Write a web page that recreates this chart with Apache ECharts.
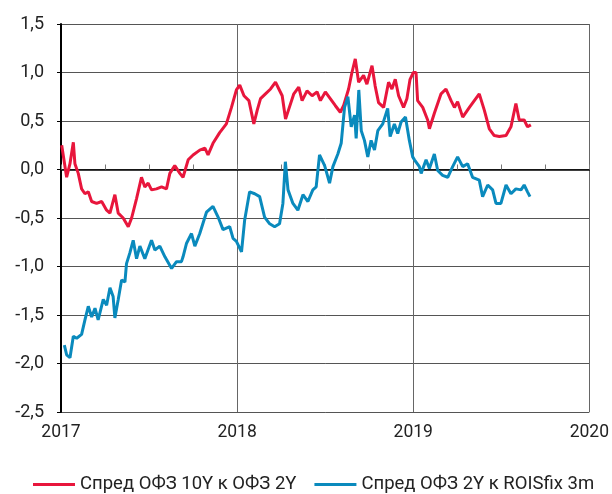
<!DOCTYPE html>
<html>
<head>
<meta charset="utf-8">
<script src="https://cdn.jsdelivr.net/npm/echarts@6/dist/echarts.min.js"></script>
<style>
  html, body { margin: 0; padding: 0; background: #fff; }
  #chart { width: 612px; height: 494px; }
</style>
</head>
<body>
<div id="chart"></div>
<script>
// Спред ОФЗ 10Y к ОФЗ 2Y (decimal year, п.п.)
const redX = [2017.004, 2017.032, 2017.051, 2017.070, 2017.079, 2017.098, 2017.117, 2017.136, 2017.155, 2017.174,
  2017.202, 2017.231, 2017.259, 2017.278, 2017.306, 2017.325, 2017.353, 2017.382, 2017.401, 2017.429,
  2017.457, 2017.476, 2017.495, 2017.514, 2017.542, 2017.571, 2017.599, 2017.618, 2017.646, 2017.675,
  2017.693, 2017.722, 2017.750, 2017.788, 2017.817, 2017.835, 2017.863, 2017.901, 2017.939, 2017.968,
  2017.996, 2018.015, 2018.039, 2018.067, 2018.095, 2018.114, 2018.133, 2018.161, 2018.190, 2018.218,
  2018.237, 2018.256, 2018.275, 2018.293, 2018.322, 2018.350, 2018.369, 2018.397, 2018.426, 2018.454,
  2018.473, 2018.501, 2018.529, 2018.557, 2018.586, 2018.605, 2018.633, 2018.652, 2018.671, 2018.690,
  2018.718, 2018.737, 2018.766, 2018.784, 2018.803, 2018.832, 2018.860, 2018.879, 2018.898, 2018.917,
  2018.945, 2018.964, 2018.982, 2019.001, 2019.016, 2019.025, 2019.054, 2019.082, 2019.092, 2019.120,
  2019.158, 2019.186, 2019.215, 2019.234, 2019.252, 2019.281, 2019.319, 2019.347, 2019.375, 2019.404,
  2019.432, 2019.460, 2019.489, 2019.527, 2019.555, 2019.583, 2019.602, 2019.630, 2019.649, 2019.668]
const redY = [0.25, -0.08, 0.06, 0.28, 0.06, -0.04, -0.20, -0.25, -0.23, -0.33,
  -0.35, -0.33, -0.42, -0.45, -0.26, -0.45, -0.50, -0.59, -0.50, -0.30,
  -0.08, -0.18, -0.14, -0.21, -0.20, -0.18, -0.20, -0.04, 0.04, -0.04,
  -0.08, 0.10, 0.15, 0.20, 0.22, 0.15, 0.27, 0.38, 0.47, 0.64,
  0.82, 0.87, 0.76, 0.71, 0.47, 0.61, 0.73, 0.78, 0.83, 0.90,
  0.83, 0.76, 0.52, 0.62, 0.78, 0.85, 0.71, 0.81, 0.76, 0.80,
  0.71, 0.80, 0.73, 0.66, 0.59, 0.66, 0.83, 1.00, 1.14, 0.90,
  0.97, 0.88, 1.07, 0.86, 0.69, 0.64, 0.90, 0.83, 0.93, 0.76,
  0.64, 0.73, 0.93, 1.00, 1.00, 0.71, 0.64, 0.51, 0.42, 0.58,
  0.78, 0.83, 0.71, 0.64, 0.70, 0.54, 0.64, 0.71, 0.78, 0.61,
  0.42, 0.35, 0.34, 0.35, 0.44, 0.68, 0.51, 0.51, 0.44, 0.46]

// Спред ОФЗ 2Y к ROISfix 3m
const blueX = [2017.019, 2017.032, 2017.051, 2017.070, 2017.089, 2017.117, 2017.136, 2017.155, 2017.174, 2017.193,
  2017.211, 2017.240, 2017.259, 2017.278, 2017.296, 2017.306, 2017.325, 2017.344, 2017.363, 2017.372,
  2017.391, 2017.410, 2017.429, 2017.448, 2017.476, 2017.514, 2017.533, 2017.561, 2017.590, 2017.628,
  2017.656, 2017.684, 2017.693, 2017.713, 2017.741, 2017.760, 2017.788, 2017.826, 2017.863, 2017.892,
  2017.920, 2017.958, 2017.977, 2017.996, 2018.025, 2018.043, 2018.071, 2018.100, 2018.128, 2018.156,
  2018.185, 2018.213, 2018.241, 2018.260, 2018.274, 2018.289, 2018.317, 2018.345, 2018.374, 2018.402,
  2018.430, 2018.449, 2018.468, 2018.497, 2018.525, 2018.544, 2018.572, 2018.591, 2018.610, 2018.629,
  2018.648, 2018.667, 2018.676, 2018.691, 2018.705, 2018.723, 2018.742, 2018.761, 2018.780, 2018.799,
  2018.827, 2018.855, 2018.869, 2018.893, 2018.912, 2018.931, 2018.956, 2018.978, 2018.997, 2019.007,
  2019.035, 2019.045, 2019.073, 2019.092, 2019.120, 2019.139, 2019.167, 2019.196, 2019.224, 2019.252,
  2019.281, 2019.309, 2019.337, 2019.375, 2019.394, 2019.423, 2019.451, 2019.470, 2019.498, 2019.527,
  2019.555, 2019.583, 2019.612, 2019.630, 2019.649, 2019.663]
const blueY = [-1.81, -1.91, -1.94, -1.72, -1.74, -1.70, -1.55, -1.41, -1.52, -1.43,
  -1.55, -1.34, -1.40, -1.22, -1.31, -1.53, -1.34, -1.14, -1.16, -0.97,
  -0.86, -0.73, -0.92, -0.79, -0.92, -0.73, -0.83, -0.79, -0.90, -1.02,
  -0.95, -0.95, -0.90, -0.76, -0.66, -0.79, -0.66, -0.44, -0.38, -0.49,
  -0.62, -0.59, -0.71, -0.74, -0.85, -0.52, -0.23, -0.25, -0.28, -0.49,
  -0.56, -0.59, -0.56, -0.35, 0.08, -0.21, -0.35, -0.42, -0.26, -0.33,
  -0.21, -0.18, 0.15, 0.04, -0.14, 0.03, 0.16, 0.27, 0.64, 0.75,
  0.44, 0.56, 0.32, 0.82, 0.40, 0.30, 0.13, 0.30, 0.20, 0.40,
  0.47, 0.63, 0.34, 0.47, 0.37, 0.49, 0.54, 0.30, 0.13, 0.10,
  0.03, -0.04, 0.10, 0.01, 0.16, -0.01, -0.06, -0.08, 0.03, 0.13,
  0.03, 0.06, -0.08, -0.11, -0.28, -0.16, -0.21, -0.35, -0.35, -0.16,
  -0.25, -0.20, -0.21, -0.16, -0.23, -0.28]

const yearTicks = [2017, 2018, 2019, 2020]
const seriesNames = ['Спред ОФЗ 10Y к ОФЗ 2Y', 'Спред ОФЗ 2Y к ROISfix 3m']

const FONT = 'Roboto, sans-serif'
const zip = (xs, ys) => xs.map((x, i) => [x, ys[i]])

const chart = echarts.init(document.getElementById('chart'))
chart.setOption({
  animation: false,
  backgroundColor: '#fff',
  grid: { left: 61, right: 22, top: 24, bottom: 82 },
  legend: {
    left: 28, top: 470,
    icon: 'rect', itemWidth: 42, itemHeight: 3, itemGap: 20, itemGap: 18,
    textStyle: { fontFamily: FONT, fontSize: 18.5, color: '#222' },
    data: seriesNames
  },
  xAxis: [
    {
      type: 'value', min: yearTicks[0], max: yearTicks[yearTicks.length - 1], interval: 1,
      axisLine: { show: false, onZero: false },
      axisTick: { show: false },
      axisLabel: { fontFamily: FONT, fontSize: 17.5, color: '#222', margin: 12, formatter: (v) => String(v) },
      splitLine: { lineStyle: { color: '#666', width: 1 } }
    },
    {
      // нулевая линия с квартальными засечками
      type: 'value', min: yearTicks[0], max: yearTicks[yearTicks.length - 1], interval: 0.25,
      position: 'bottom',
      axisLine: { show: true, onZero: true, lineStyle: { color: '#000', width: 1.5 } },
      axisTick: { show: true, inside: true, length: 5, lineStyle: { color: '#777' } },
      axisLabel: { show: false },
      splitLine: { show: false }
    }
  ],
  yAxis: {
    type: 'value', min: -2.5, max: 1.5, interval: 0.5,
    axisLine: { show: true, lineStyle: { color: '#000', width: 2 } },
    axisTick: { show: true, length: 4, lineStyle: { color: '#000' } },
    axisLabel: {
      fontFamily: FONT, fontSize: 18, color: '#222', margin: 17,
      formatter: (v) => v.toFixed(1).replace('.', ',')
    },
    splitLine: { lineStyle: { color: '#555', width: 1 } }
  },
  series: [
    { name: seriesNames[0], type: 'line', symbol: 'none', data: zip(redX, redY),
      lineStyle: { color: '#E8163C', width: 3 }, itemStyle: { color: '#E8163C' } },
    { name: seriesNames[1], type: 'line', symbol: 'none', data: zip(blueX, blueY),
      lineStyle: { color: '#0A8ABD', width: 3 }, itemStyle: { color: '#0A8ABD' } }
  ]
})
</script>
</body>
</html>
